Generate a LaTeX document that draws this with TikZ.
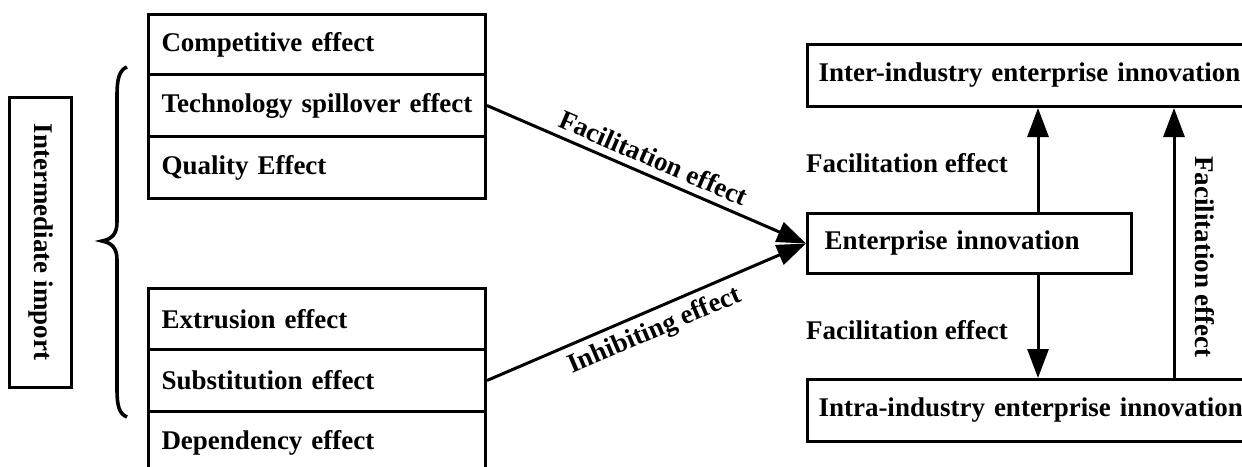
\documentclass[tikz,border=0pt]{standalone}
\usepackage{fontspec}
\setmainfont{Liberation Serif}
\usetikzlibrary{arrows.meta,calc}
\begin{document}
\begin{tikzpicture}[x=1pt,y=-1pt,
  every node/.style={font=\fontsize{27}{32}\selectfont\bfseries},
  cell/.style={draw,line width=3pt,anchor=north west,minimum width=337,text width=311,inner xsep=13,align=left,inner ysep=0},
  rbox/.style={draw,line width=3pt,anchor=north west,minimum height=62,align=left,inner ysep=0},
  lab/.style={inner sep=2pt},
  arr/.style={line width=3pt,-{Triangle[length=29pt,width=21pt]}}
]
\useasboundingbox (0,0) rectangle (1242,466);
% left upper stack
\node[cell,minimum height=60] (c1) at (147,13) {Competitive effect};
\node[cell,minimum height=62] (c2) at (147,73) {Technology spillover effect};
\node[cell,minimum height=62] (c3) at (147,135) {Quality Effect};
% left lower stack
\node[cell,minimum height=61] (d1) at (147,287) {Extrusion effect};
\node[cell,minimum height=62] (d2) at (147,348) {Substitution effect};
\node[cell,minimum height=62] (d3) at (147,410) {Dependency effect};
% intermediate import
\node[draw,line width=3pt,rotate=-90,minimum width=290,minimum height=62,inner sep=0] (imp) at (40.5,242) {Intermediate import};
% brace
\draw[line width=3.6pt] (127,67) .. controls (119,70) and (117,80) .. (117,95) -- (117,222)
  .. controls (117,234) and (112,239) .. (102,241)
  .. controls (112,243) and (117,248) .. (117,260) -- (117,390)
  .. controls (117,405) and (119,414) .. (127,417);
% right boxes
\node[rbox,minimum width=307,text width=290,inner xsep=17,minimum height=60] (ent) at (806,212) {Enterprise innovation};
\node[rbox,minimum width=450,inner xsep=11,text width=428] (inter) at (806,43) {Inter-industry enterprise innovation};
\node[rbox,minimum width=450,inner xsep=11,text width=428] (intra) at (806,378) {Intra-industry enterprise innovation};
% diagonal arrows
\coordinate (tip) at (ent.west);
\draw[arr] (c2.east) -- (tip) node[lab,midway,sloped,above=5pt] {Facilitation effect};
\draw[arr] (d2.east) -- (tip) node[lab,midway,sloped,below=5pt] {Inhibiting effect};
% vertical arrows
\coordinate (v1) at ([xshift=68.5pt]ent.north);
\coordinate (v2) at ([xshift=68.5pt]ent.south);
\draw[arr] (v1) -- (v1 |- inter.south);
\draw[arr] (v2) -- (v2 |- intra.north);
\coordinate (v3) at (1174,300);
\draw[arr] (v3 |- intra.north) -- (v3 |- inter.south);
% labels
\node[lab,anchor=west] (l1) at (804,163) {Facilitation effect};
\node[lab,anchor=west] (l2) at (804,330) {Facilitation effect};
\node[lab,rotate=-90] (l3) at (1205,257) {Facilitation effect};
\end{tikzpicture}
\end{document}
